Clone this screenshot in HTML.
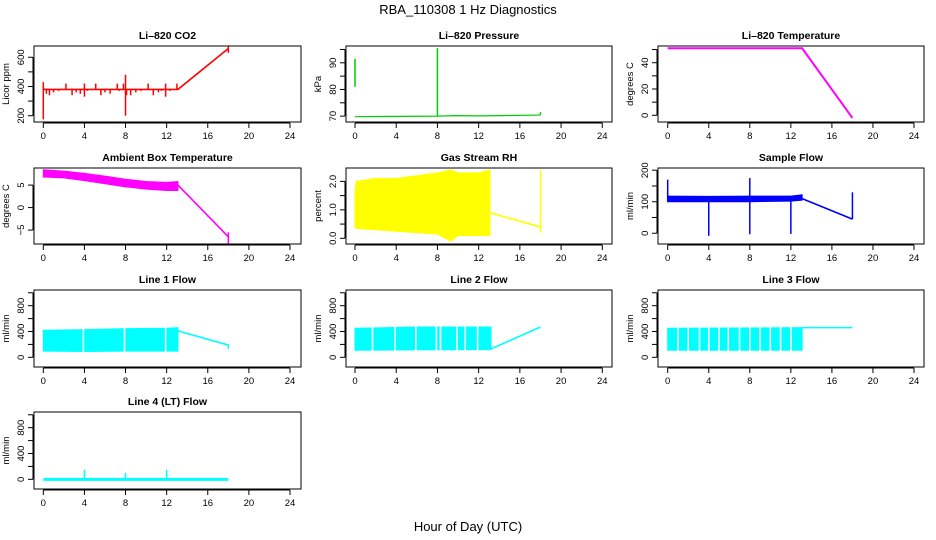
<!DOCTYPE html>
<html><head><meta charset="utf-8"><style>
html,body{margin:0;padding:0;background:#fff;}
svg{display:block;font-family:"Liberation Sans",Arial,sans-serif;}
</style></head><body>
<svg id="chart" width="936" height="540" viewBox="0 0 936 540">
<text x="468" y="14" text-anchor="middle" font-size="13">RBA_110308  1 Hz Diagnostics</text>
<text x="468" y="531" text-anchor="middle" font-size="13">Hour of Day (UTC)</text>
</svg>
<script>
// ---- data arrays ----
const xTicks = [0,4,8,12,16,20,24];
// CO2
const co2LineH = [0,13.1,18];
const co2LineV = [380,380,660];
const co2SpikeH = [0,8,0.3,0.6,1,1.5,2.2,2.8,3.2,3.6,4,4.3,5.1,5.6,6,6.5,7.2,7.4,7.8,8.1,8.5,9,9.5,10.2,10.7,11.2,11.5,11.9,12.3,13,18];
const co2SpikeLo = [175,200,350,340,360,370,380,340,360,350,330,370,380,340,360,350,380,370,380,340,340,360,370,380,340,360,370,330,370,380,630];
const co2SpikeHi = [430,480,380,380,380,380,420,380,380,380,420,380,420,380,380,380,420,380,420,380,380,380,380,420,380,380,380,420,380,420,680];
// Pressure
const presLineH = [0,8,9.7,12,18];
const presLineV = [69.8,70.0,70.2,70.1,70.4];
const presSpikeH = [0,8,18];
const presSpikeLo = [81,69.8,70.5];
const presSpikeHi = [91.5,95.5,71.5];
// Li-820 temperature
const tempLineH = [0,13.1,18];
const tempLineV = [51,51,-2];
// Ambient box temperature
const ambBandH = [0,2,4,6,8,10,12,13.1];
const ambBandLo = [6.8,6.6,6.0,5.3,4.6,4.1,3.8,3.8];
const ambBandHi = [8.4,8.1,7.6,7.0,6.3,5.8,5.6,5.8];
const ambLineH = [13.1,18];
const ambLineV = [5,-6.5];
const ambSpikeH = [18];
const ambSpikeLo = [-8];
const ambSpikeHi = [-5.5];
// Gas stream RH
const rhBandH = [0,0.1,2,4,6,8,9.3,10,12,13.1];
const rhBandLo = [0.4,0.35,0.3,0.25,0.2,0.15,-0.1,0.1,0.1,0.1];
const rhBandHi = [1.6,2.0,2.1,2.1,2.2,2.3,2.4,2.3,2.3,2.4];
const rhLineH = [13.1,18];
const rhLineV = [0.9,0.4];
const rhSpikeH = [18];
const rhSpikeLo = [0.2];
const rhSpikeHi = [2.4];
// Sample flow
const sfBandH = [0,4,8,12,13.1];
const sfBandLo = [100,100,100,102,105];
const sfBandHi = [118,117,118,118,122];
const sfLineH = [13.1,18];
const sfLineV = [110,45];
const sfSpikeH = [0,4,8,12,18];
const sfSpikeLo = [100,-8,-3,-2,45];
const sfSpikeHi = [170,115,175,115,130];
// Line 1
const l1BandH = [0,4,8,12,13.1];
const l1BandLo = [95,90,95,95,95];
const l1BandHi = [420,430,445,450,460];
const l1Gaps = [3.9,7.9,11.9];
const l1LineH = [13.1,18];
const l1LineV = [410,190];
const l1SpikeH = [18];
const l1SpikeLo = [130];
const l1SpikeHi = [200];
// Line 2
const l2BandH = [0,6,13.2];
const l2BandLo = [110,115,120];
const l2BandHi = [450,470,470];
const l2Gaps = [1.7,3.9,5.9,7.9,8.3,9.9,10.7,11.9];
const l2LineH = [13.2,18];
const l2LineV = [130,470];
// Line 3
const l3BandH = [0,13.1];
const l3BandLo = [110,110];
const l3BandHi = [450,460];
const l3Gaps = [1.0,2.0,3.1,4.0,5.0,5.9,7.0,8.0,9.0,10.0,11.0,12.0];
const l3LineH = [13.1,18];
const l3LineV = [460,460];
// Line 4
const l4LineH = [0,18];
const l4LineV = [0,0];
const l4SpikeH = [4,8,12,1.6,2.2,2.8,3.2];
const l4SpikeLo = [0,0,0,-20,-20,-20,-20];
const l4SpikeHi = [150,100,150,0,0,0,0];

// ---- layout ----
const colL=[34,346,658], colR=[301,612,924], colX0=[43.3,355,667.7], colX24=[290,602.3,914];
const rowT=[46,168,290,412], rowB=[122,244,367,489];
const NS='http://www.w3.org/2000/svg';
const svg=document.getElementById('chart');
function el(tag,attrs,parent){const e=document.createElementNS(NS,tag);for(const k in attrs)e.setAttribute(k,attrs[k]);(parent||svg).appendChild(e);return e;}

function panel(cfg){
  const c=cfg.col,r=cfg.row;
  const g=el('g',{});
  
  
  const L=colL[c],R=colR[c],T=rowT[r],B=rowB[r];
  const xs=h=>colX0[c]+(colX24[c]-colX0[c])*h/24;
  const ys=v=>B-(v-cfg.dom[0])/(cfg.dom[1]-cfg.dom[0])*(B-T);
  const col=cfg.color;
  // band
  if(cfg.band){
    const [bh,lo,hi]=cfg.band;let pts=[];
    for(let i=0;i<bh.length;i++)pts.push(xs(bh[i])+','+ys(hi[i]));
    for(let i=bh.length-1;i>=0;i--)pts.push(xs(bh[i])+','+ys(lo[i]));
    const p=el('polygon',{points:pts.join(' '),fill:col,stroke:col,'stroke-width':1},g);
    
    
  }
  if(cfg.gaps&&cfg.band){
    const [bh,lo,hi]=cfg.band;
    cfg.gaps.forEach(h=>{
      const ln=el('line',{x1:xs(h),x2:xs(h),y1:ys(Math.max(...hi))-1,y2:ys(Math.min(...lo))+1,stroke:'#fff','stroke-width':1.6},g);
      
      
    });
  }
  if(cfg.line){
    const [lh,lv]=cfg.line;
    const pl=el('polyline',{points:lh.map((h,i)=>xs(h)+','+ys(lv[i])).join(' '),fill:'none',stroke:col,'stroke-width':cfg.lw||1.6},g);
    
    
  }
  if(cfg.spikes){
    const [sh,lo,hi]=cfg.spikes;
    sh.forEach((h,i)=>{
      const ln=el('line',{x1:xs(h),x2:xs(h),y1:ys(lo[i]),y2:ys(hi[i]),stroke:col,'stroke-width':1.5},g);
      
      
    });
  }
  // box
  const box=el('rect',{x:L,y:T,width:R-L,height:B-T,fill:'none',stroke:'#000','stroke-width':1},g);
  
  
  // title
  const t=el('text',{x:(L+R)/2,y:T-7,'text-anchor':'middle','font-size':10.5,'font-weight':'bold'},g);
  t.textContent=cfg.title;
  
  
  // x axis
  el('line',{x1:xs(0),x2:xs(24),y1:B+1,y2:B+1,stroke:'#000'},g);
  xTicks.forEach(v=>{
    el('line',{x1:xs(v),x2:xs(v),y1:B+1,y2:B+6,stroke:'#000'},g);
    const tx=el('text',{x:xs(v),y:B+17,'text-anchor':'middle','font-size':9.5},g);
    tx.textContent=v;
    
    
  });
  // y axis
  const yt=cfg.yticks;
  el('line',{x1:L-1,x2:L-1,y1:ys(yt[0]),y2:ys(yt[yt.length-1]),stroke:'#000'},g);
  yt.forEach(v=>{el('line',{x1:L-1,x2:L-6,y1:ys(v),y2:ys(v),stroke:'#000'},g);});
  cfg.ylabels.forEach(v=>{
    const y=ys(v),x=L-10;
    const tx=el('text',{x:x,y:y,'text-anchor':'middle','font-size':9.5,transform:`rotate(-90 ${x} ${y})`},g);
    tx.textContent=cfg.fmt?cfg.fmt(v):v;
    
    
  });
  const yx=L-25,yy=(T+B)/2;
  const yl=el('text',{x:yx,y:yy,'text-anchor':'middle','font-size':9.5,transform:`rotate(-90 ${yx} ${yy})`},g);
  yl.textContent=cfg.ytitle;
  
  
}

const lineTicks=[0,200,400,600,800,1000], lineLabels=[0,400,800];
panel({name:'co2-panel',col:0,row:0,title:'Li–820 CO2',ytitle:'Licor ppm',dom:[157,677],yticks:[200,300,400,500,600],ylabels:[200,400,600],color:'#ff0000',line:[co2LineH,co2LineV],spikes:[co2SpikeH,co2SpikeLo,co2SpikeHi]});
panel({name:'pressure-panel',col:1,row:0,title:'Li–820 Pressure',ytitle:'kPa',dom:[67.8,96.3],yticks:[70,75,80,85,90,95],ylabels:[70,80,90],color:'#00cd00',line:[presLineH,presLineV],lw:1.2,spikes:[presSpikeH,presSpikeLo,presSpikeHi]});
panel({name:'li820-temperature-panel',col:2,row:0,title:'Li–820 Temperature',ytitle:'degrees C',dom:[-5.1,52.7],yticks:[0,10,20,30,40,50],ylabels:[0,20,40],color:'#ff00ff',line:[tempLineH,tempLineV],lw:2});
panel({name:'ambient-temperature-panel',col:0,row:1,title:'Ambient Box Temperature',ytitle:'degrees C',dom:[-8.1,8.8],yticks:[-5,0,5],ylabels:[-5,0,5],fmt:v=>v<0?'−'+(-v):v,color:'#ff00ff',band:[ambBandH,ambBandLo,ambBandHi],line:[ambLineH,ambLineV],spikes:[ambSpikeH,ambSpikeLo,ambSpikeHi]});
panel({name:'rh-panel',col:1,row:1,title:'Gas Stream RH',ytitle:'percent',dom:[-0.2,2.47],yticks:[0,0.5,1,1.5,2],ylabels:[0,1,2],fmt:v=>v.toFixed(1),color:'#ffff00',band:[rhBandH,rhBandLo,rhBandHi],line:[rhLineH,rhLineV],spikes:[rhSpikeH,rhSpikeLo,rhSpikeHi]});
panel({name:'sample-flow-panel',col:2,row:1,title:'Sample Flow',ytitle:'ml/min',dom:[-34,207],yticks:[0,50,100,150,200],ylabels:[0,100,200],color:'#0000ff',band:[sfBandH,sfBandLo,sfBandHi],line:[sfLineH,sfLineV],spikes:[sfSpikeH,sfSpikeLo,sfSpikeHi]});
panel({name:'line1-flow-panel',col:0,row:2,title:'Line 1 Flow',ytitle:'ml/min',dom:[-150,1043],yticks:lineTicks,ylabels:lineLabels,color:'#00ffff',band:[l1BandH,l1BandLo,l1BandHi],gaps:l1Gaps,line:[l1LineH,l1LineV],spikes:[l1SpikeH,l1SpikeLo,l1SpikeHi]});
panel({name:'line2-flow-panel',col:1,row:2,title:'Line 2 Flow',ytitle:'ml/min',dom:[-150,1043],yticks:lineTicks,ylabels:lineLabels,color:'#00ffff',band:[l2BandH,l2BandLo,l2BandHi],gaps:l2Gaps,line:[l2LineH,l2LineV]});
panel({name:'line3-flow-panel',col:2,row:2,title:'Line 3 Flow',ytitle:'ml/min',dom:[-150,1043],yticks:lineTicks,ylabels:lineLabels,color:'#00ffff',band:[l3BandH,l3BandLo,l3BandHi],gaps:l3Gaps,line:[l3LineH,l3LineV]});
panel({name:'line4-flow-panel',col:0,row:3,title:'Line 4 (LT) Flow',ytitle:'ml/min',dom:[-150,1043],yticks:lineTicks,ylabels:lineLabels,color:'#00ffff',line:[l4LineH,l4LineV],lw:3,spikes:[l4SpikeH,l4SpikeLo,l4SpikeHi]});
</script>
</body></html>
